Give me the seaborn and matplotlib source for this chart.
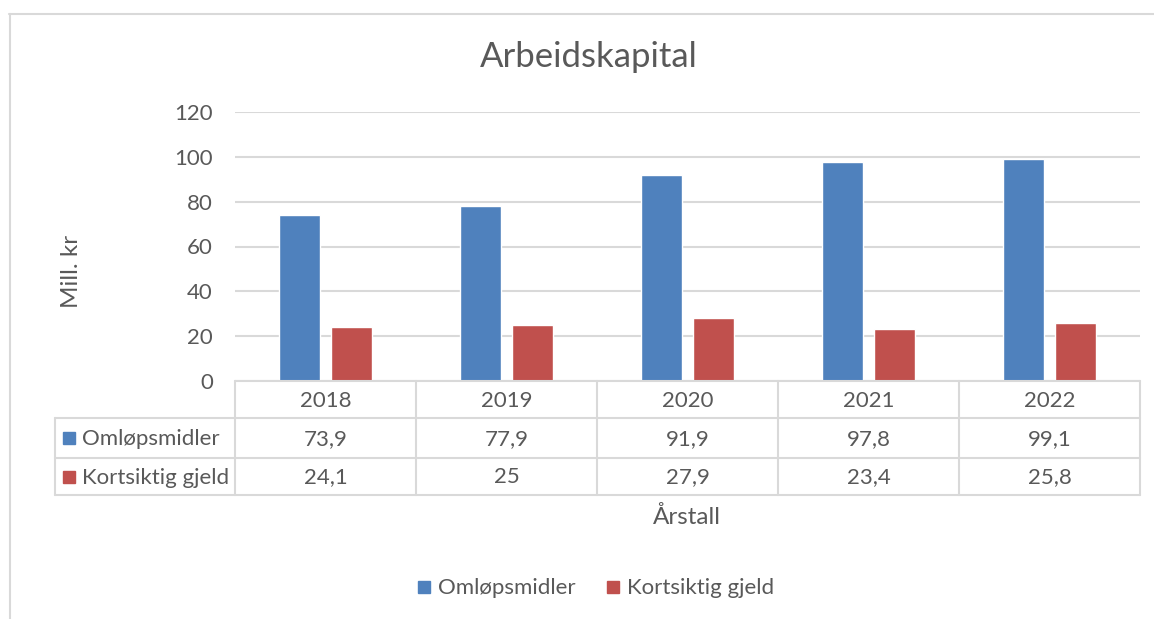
import numpy as np
import pandas as pd
import matplotlib
matplotlib.use("Agg")
import matplotlib.pyplot as plt
import seaborn as sns
from matplotlib.transforms import blended_transform_factory
from matplotlib.lines import Line2D
from matplotlib.patches import Rectangle

# data
years = ["2018", "2019", "2020", "2021", "2022"]
omlop = [73.9, 77.9, 91.9, 97.8, 99.1]
kortsiktig = [24.1, 25.0, 27.9, 23.4, 25.8]
series_names = ["Omløpsmidler", "Kortsiktig gjeld"]
yticks = [0, 20, 40, 60, 80, 100, 120]

colors = ["#4F81BD", "#C0504D"]
text_color = "#595959"
line_color = "#D9D9D9"

sns.set_style("white")
plt.rcParams["font.family"] = ["Lato", "DejaVu Sans"]

df = pd.DataFrame({
    "year": years * 2,
    "value": omlop + kortsiktig,
    "serie": [series_names[0]] * len(years) + [series_names[1]] * len(years),
})

W, H = 1154, 619
fig = plt.figure(figsize=(W / 100, H / 100), dpi=100)
ax = fig.add_axes([235 / W, 1 - 381 / H, (1140 - 235) / W, (381 - 112) / H])

sns.barplot(data=df, x="year", y="value", hue="serie", palette=colors,
            width=0.575, gap=0.21, ax=ax, legend=False, saturation=1)

ax.set_ylim(0, 120)
ax.set_xlim(-0.5, len(years) - 0.5)
ax.set_yticks(yticks)
ax.set_yticklabels([str(t) for t in yticks], color=text_color, fontsize=16)
ax.tick_params(axis="y", length=0, pad=16)
ax.set_xticks([])
ax.set_xlabel("")
ax.set_ylabel("")
for s in ax.spines.values():
    s.set_visible(False)
ax.yaxis.grid(True, color=line_color, linewidth=1.5)
ax.set_axisbelow(True)

# title and axis labels
fig.text(589 / W, 1 - 57 / H, "Arbeidskapital", ha="center", va="center",
         fontsize=25, color=text_color)
fig.text(72 / W, 1 - 271 / H, "Mill. kr", ha="center", va="center",
         rotation=90, fontsize=17.5, color=text_color)
fig.text(687 / W, 1 - 517 / H, "Årstall", ha="center", va="center",
         fontsize=17.5, color=text_color)

# data table below the axes
tr = blended_transform_factory(ax.transData, fig.transFigure)
ftr = fig.transFigure
rows_y = [381, 418, 458, 495]
def fy(p):
    return 1 - p / H

# horizontal lines
fig.add_artist(Line2D([235 / W, 1140 / W], [fy(381), fy(381)], color=line_color, lw=1.5, transform=ftr))
for ry in rows_y[1:]:
    fig.add_artist(Line2D([55 / W, 1140 / W], [fy(ry), fy(ry)], color=line_color, lw=1.5, transform=ftr))
# vertical lines
for i in range(len(years) + 1):
    fig.add_artist(Line2D([i - 0.5, i - 0.5], [fy(381), fy(495)], color=line_color, lw=1.5, transform=tr))
fig.add_artist(Line2D([55 / W, 55 / W], [fy(418), fy(495)], color=line_color, lw=1.5, transform=ftr))

for i, yr in enumerate(years):
    fig.text(i, fy(401), yr, ha="center", va="center", fontsize=16, color=text_color, transform=tr)
    fig.text(i, fy(439), f"{omlop[i]:g}".replace(".", ","), ha="center", va="center",
             fontsize=16, color=text_color, transform=tr)
    fig.text(i, fy(477), f"{kortsiktig[i]:g}".replace(".", ","), ha="center", va="center",
             fontsize=16, color=text_color, transform=tr)

for name, col, cy in zip(series_names, colors, [438, 477]):
    fig.add_artist(Rectangle((63 / W, fy(cy + 6)), 12 / W, 12 / H, color=col, transform=ftr))
    fig.text(82 / W, fy(cy + 1), name, ha="left", va="center", fontsize=16, color=text_color)

# legend
for name, col, x0 in zip(series_names, colors, [418, 607]):
    fig.add_artist(Rectangle((x0 / W, fy(593)), 12 / W, 12 / H, color=col, transform=ftr))
    fig.text((x0 + 20) / W, fy(588), name, ha="left", va="center", fontsize=16, color=text_color)

# chart border
fig.add_artist(Line2D([9 / W, 1.0], [fy(13.5), fy(13.5)], color=line_color, lw=1.5, transform=ftr))
fig.add_artist(Line2D([9.5 / W, 9.5 / W], [0, fy(13.5)], color=line_color, lw=1.5, transform=ftr))

fig.savefig("out.png", dpi=100)
